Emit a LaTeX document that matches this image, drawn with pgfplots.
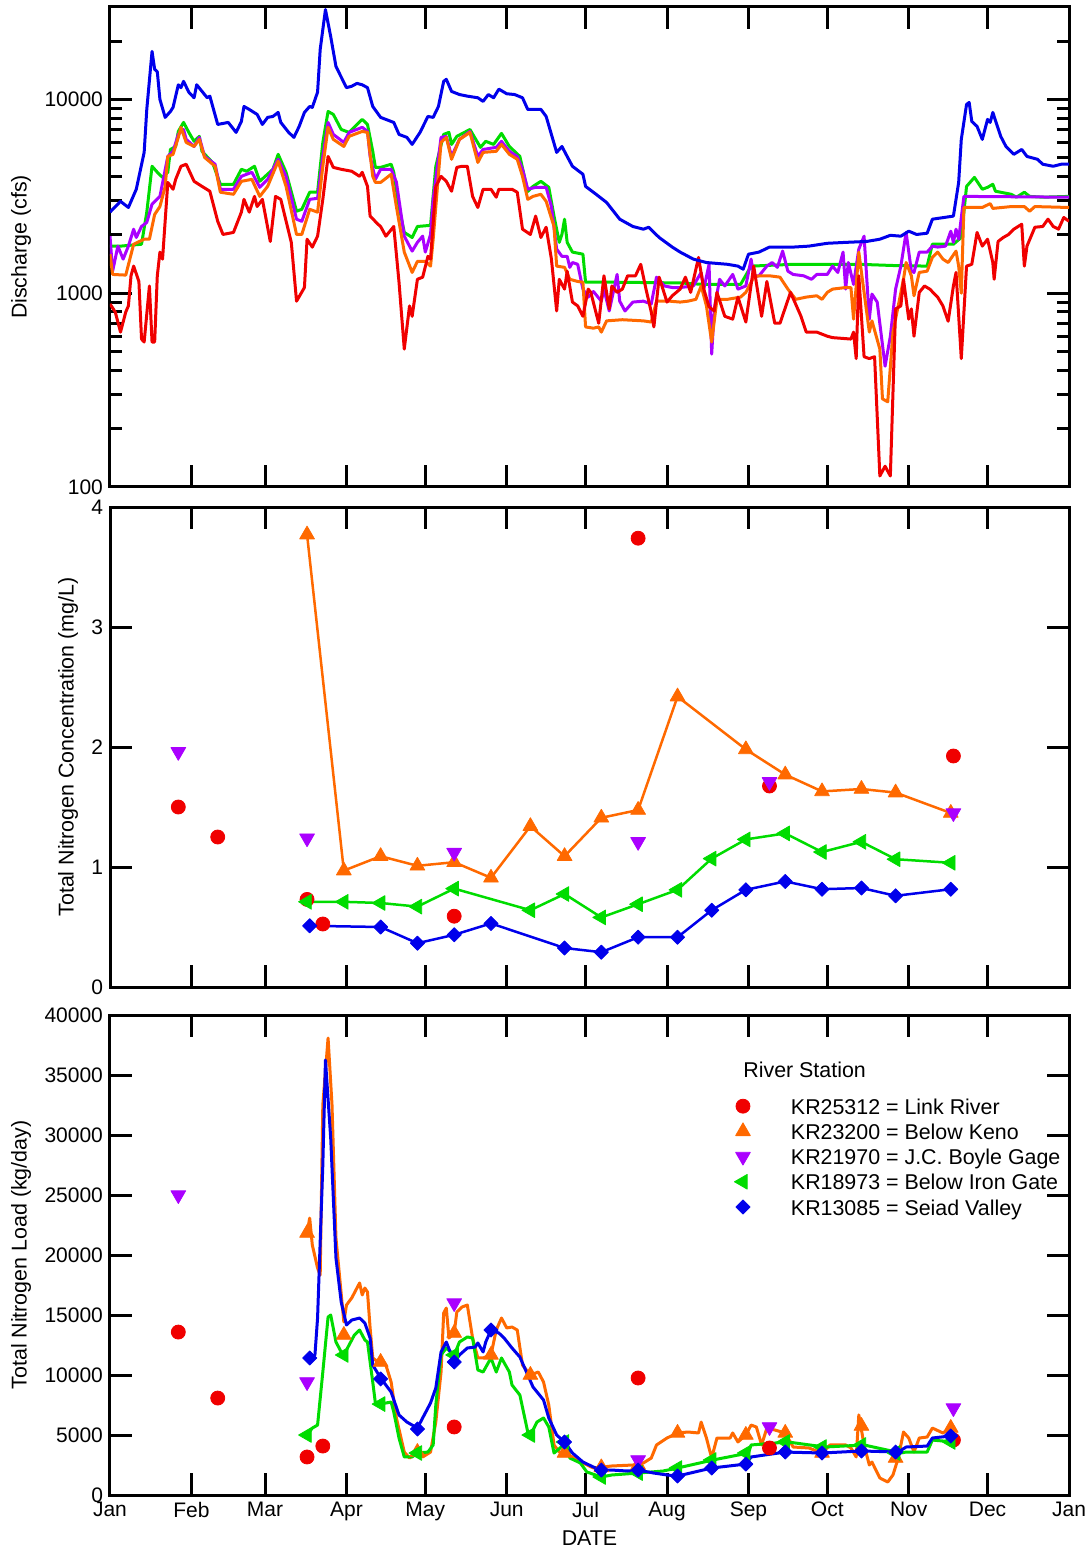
\documentclass[border=0pt]{standalone}
\usepackage{fontspec}
\setmainfont{Liberation Sans}
\usepackage{pgfplots}
\pgfplotsset{compat=1.18}

\definecolor{linkred}{RGB}{240,0,0}
\definecolor{kenoorange}{RGB}{255,105,0}
\definecolor{boylepurple}{RGB}{170,0,255}
\definecolor{irongreen}{RGB}{0,220,0}
\definecolor{seiadblue}{RGB}{0,0,235}

\newcommand{\labelfont}{\fontsize{10.7}{12.8}\selectfont}

\pgfplotsset{
  panel/.style={
    scale only axis, width=479.5pt, height=240pt,
    xmin=0, xmax=365,
    xtick={0,31,59,90,120,151,181,212,243,273,304,334,365},
    tick align=inside,
    major tick length=11pt,
    minor tick length=6pt,
    axis line style={line width=1.5pt},
    every tick/.append style={black, line width=1.5pt},
    tick label style={font=\fontsize{10.5}{12}\selectfont},
    label style={font=\labelfont},
    scaled ticks=false,
    /pgf/number format/assume math mode=true,
    /pgf/number format/1000 sep={},
    every axis plot/.append style={line join=round},
  },
  flow/.style={line width=1.5pt, no markers},
  redmark/.style={only marks, mark=*, mark size=3.5pt, color=linkred},
  orangemark/.style={mark=triangle*, mark size=4.25pt, color=kenoorange},
  purplemark/.style={only marks, mark=triangle*, mark size=4.25pt, color=boylepurple, mark options={rotate=180}},
  greenmark/.style={mark=triangle*, mark size=4.25pt, color=irongreen, mark options={rotate=90}},
  bluemark/.style={mark=square*, mark size=2.5pt, color=seiadblue, mark options={rotate=45}},
}

\begin{document}
\begin{tikzpicture}
\path[use as bounding box] (0,0) rectangle (545pt,-775.5pt);

% ---------------- Discharge ----------------
\begin{axis}[panel, at={(55pt,-243.5pt)}, anchor=south west,
  ymode=log, ymin=100, ymax=30000,
  ytick={100,1000,10000}, yticklabels={100,1000,10000},
  minor ytick={200,300,400,500,600,700,800,900,2000,3000,4000,5000,6000,7000,8000,9000,20000,30000},
  xticklabels={},
  ylabel={Discharge (cfs)},
  ylabel style={at={(axis description cs:-0.0928,0.5)}, anchor=center},
]
% KR18973 Below Iron Gate
\addplot[flow, irongreen] coordinates {
(0,1750)(4,1750)(12,1790)(14,2620)(16,4520)(18,4210)(20,3960)(22,4210)(23,5520)(25,5720)(26,6840)(28,7610)(30,6760)(32,6080)(34,6450)(35,5400)(39,4730)(42,3650)(47,3650)(50,4360)(52,4260)(55,4520)(57,3780)(62,4360)(64,5210)(67,4210)(71,2650)(73,2710)(76,3320)(79,3320)(81,6000)(83,8670)(85,8370)(88,7000)(91,6760)(94,7430)(96,7890)(98,7430)(100,5400)(101,4460)(103,4460)(107,4630)(108,4210)(110,2800)(112,2060)(115,1940)(117,2210)(122,2240)(124,4520)(127,6600)(129,6760)(130,5860)(132,6450)(137,7000)(141,5660)(143,6080)(146,5860)(149,6680)(152,5720)(156,5080)(159,3350)(161,3560)(164,3780)(167,3520)(169,2500)(171,1830)(172,2010)(173,2410)(174,1830)(176,1630)(180,1590)(181,1140)(191,1140)(217,1130)(226,1110)(240,1110)(244,1380)(260,1410)(285,1410)(298,1390)(311,1380)(313,1790)(321,1790)(324,1940)(326,3560)(329,3960)(330,3780)(332,3440)(334,3520)(336,3650)(337,3360)(343,3240)(345,3130)(348,3320)(350,3160)(355,3130)(365,3160)
};
% KR21970 J.C. Boyle Gage
\addplot[flow, boylepurple] coordinates {
(0,1970)(1,1300)(3,1750)(5,1500)(7,1750)(9,2140)(10,1940)(12,2210)(14,2320)(16,2880)(19,3160)(22,5080)(24,5400)(26,6600)(28,7000)(29,6220)(32,5720)(34,6370)(36,5080)(40,4630)(42,3440)(47,3440)(50,4010)(54,4210)(57,3520)(60,3870)(64,4910)(67,4010)(71,2410)(73,2350)(76,3050)(79,3090)(81,5080)(83,7610)(85,6600)(89,6000)(91,6760)(96,7180)(98,6840)(99,5080)(101,3870)(103,4360)(107,4360)(109,3750)(112,1970)(115,1650)(117,1830)(119,1970)(120,1630)(122,2010)(123,3050)(126,6370)(128,6450)(130,5080)(133,6220)(137,6840)(140,5080)(142,5520)(147,5660)(149,6080)(152,5400)(155,5080)(157,4360)(159,3440)(162,3520)(166,3520)(168,2800)(170,1690)(172,1550)(174,1550)(175,1360)(176,1440)(178,1410)(180,1050)(182,955)(184,1020)(187,910)(188,1050)(190,810)(193,1250)(194,910)(196,810)(199,900)(203,910)(206,880)(208,1210)(211,1090)(214,1070)(217,1070)(222,1090)(225,1280)(226,1050)(228,1410)(229,485)(230,830)(232,1180)(234,1090)(237,1250)(239,1050)(242,1090)(244,1500)(245,1230)(247,1230)(250,1380)(252,1440)(254,1360)(256,1650)(258,1300)(260,1250)(264,1230)(267,1180)(269,1250)(273,1250)(275,1380)(277,1280)(279,1630)(280,1050)(281,1440)(283,1110)(285,1690)(287,1970)(289,735)(290,990)(292,900)(295,420)(297,600)(299,1050)(301,1380)(303,2060)(305,1300)(306,1280)(308,1630)(311,1630)(313,1750)(315,1730)(318,1750)(320,2090)(321,1830)(322,2140)(323,1900)(325,3160)(365,3130)
};
% KR23200 Below Keno
\addplot[flow, kenoorange] coordinates {
(0,1590)(1,1250)(6,1240)(9,1790)(13,1900)(15,1900)(17,2550)(19,2800)(21,3560)(22,5080)(24,5210)(26,6370)(27,7180)(29,6000)(32,5720)(34,6220)(36,5020)(40,4520)(42,3320)(47,3240)(50,3780)(54,3870)(57,3160)(60,3560)(64,4800)(67,3560)(71,2010)(73,2010)(76,2710)(79,2620)(81,4520)(83,7180)(85,6220)(89,5720)(91,6450)(96,6840)(98,6760)(100,4010)(101,3730)(103,3730)(107,4110)(109,2800)(112,1630)(115,1280)(117,1460)(120,1460)(122,1380)(123,1900)(126,6000)(128,6370)(130,4910)(133,6220)(137,6760)(140,4730)(142,5330)(147,5400)(149,5860)(152,5210)(155,4910)(157,4010)(159,3050)(161,3160)(164,3240)(166,2980)(169,2210)(170,1380)(173,1360)(175,1180)(178,1150)(180,1140)(181,670)(184,660)(186,670)(187,630)(189,720)(195,730)(203,720)(206,710)(208,910)(213,910)(217,900)(220,910)(223,930)(225,1090)(227,860)(229,560)(231,930)(235,930)(240,955)(242,1010)(245,1210)(247,1230)(251,1230)(255,1210)(258,1050)(261,930)(265,955)(269,970)(271,930)(273,1010)(275,1050)(280,1070)(282,1070)(283,735)(285,1630)(287,1010)(289,630)(290,720)(293,515)(294,285)(296,275)(298,630)(300,860)(302,1180)(303,1440)(305,1230)(306,970)(308,1280)(311,1300)(313,1530)(315,1630)(317,1500)(319,1440)(322,1650)(323,1380)(324,1000)(325,2770)(332,2770)(335,2900)(336,2740)(343,2800)(348,2800)(350,2650)(352,2800)(365,2770)
};
% KR25312 Link River
\addplot[flow, linkred] coordinates {
(0,880)(2,800)(4,630)(6,800)(7,860)(8,1230)(9,1380)(11,1150)(12,580)(13,560)(15,1090)(16,560)(17,560)(18,1230)(19,1630)(20,1500)(22,3730)(24,3440)(25,3870)(27,4520)(29,4630)(32,3780)(35,3560)(38,3360)(41,2350)(43,2010)(47,2060)(50,2620)(51,3050)(53,2620)(55,3160)(56,2800)(58,3050)(61,1850)(63,3160)(65,3050)(69,1830)(71,910)(74,1070)(75,1900)(77,1730)(79,1970)(81,3050)(83,5080)(85,4460)(88,4360)(92,4260)(95,4010)(96,4210)(98,3560)(99,2500)(102,2270)(103,2210)(105,1970)(108,2210)(110,1140)(112,515)(114,860)(115,760)(117,1180)(119,1210)(121,1550)(122,1500)(124,3560)(126,4010)(128,3780)(130,3360)(132,4460)(134,4520)(136,4520)(138,3160)(140,2770)(142,3440)(145,3440)(147,3130)(148,3440)(153,3440)(155,3320)(157,2140)(160,2010)(162,2500)(164,1940)(166,2190)(168,1500)(170,810)(171,1180)(173,1050)(174,1300)(176,900)(178,860)(180,760)(182,1050)(183,1010)(186,700)(188,1230)(190,830)(191,1090)(193,1010)(195,1050)(197,1230)(200,1230)(202,1410)(204,1050)(206,800)(207,670)(209,1210)(212,900)(214,970)(217,1050)(219,1210)(221,1010)(224,1530)(226,1050)(228,850)(230,810)(231,1010)(234,760)(237,735)(239,955)(242,710)(245,1380)(248,760)(250,1150)(253,700)(255,700)(259,1010)(263,760)(265,630)(269,630)(273,600)(275,590)(282,580)(283,630)(284,460)(285,1230)(287,470)(289,460)(291,470)(293,114)(295,128)(297,114)(299,830)(301,860)(302,1180)(304,735)(305,830)(306,600)(308,1010)(310,1090)(312,1050)(315,955)(317,860)(319,717)(321,1090)(322,1280)(324,460)(326,1380)(328,1410)(330,2060)(332,1750)(334,1900)(336,1440)(336.5,1180)(338,1850)(340,1940)(342,2010)(344,2140)(347,2270)(348,1380)(349,1750)(352,2190)(355,2210)(357,2410)(359,2210)(361,2140)(363,2460)(365,2350)
};
% KR13085 Seiad Valley
\addplot[flow, seiadblue] coordinates {
(0,2620)(4,2980)(7,2770)(10,3440)(13,5330)(14,8880)(16,17700)(17,14300)(18,13900)(19,10000)(21,8080)(23,8670)(24,9100)(26,11900)(27,11500)(28,12400)(30,10900)(32,10200)(33,11900)(37,10200)(38,10400)(41,7430)(45,7610)(48,6760)(50,7700)(51,9200)(53,8880)(56,8370)(58,7430)(60,8080)(62,8170)(64,8570)(65,7610)(68,6760)(70,6370)(72,7260)(74,8570)(76,9200)(77,9100)(79,10900)(80,18100)(82,29100)(84,21100)(86,14800)(90,11500)(92,11700)(94,12100)(96,11900)(98,11500)(100,9200)(103,8080)(107,7700)(108,7610)(110,6600)(113,6370)(115,5860)(118,6760)(121,8170)(123,8080)(125,9200)(127,12400)(128,12700)(130,11000)(133,10600)(136,10400)(140,10200)(142,9770)(144,10600)(146,10200)(148,11300)(151,10700)(154,10600)(157,10200)(159,8880)(164,8880)(166,8170)(170,5330)(172,5720)(174,5080)(176,4520)(180,4110)(181,3560)(185,3240)(189,2940)(194,2410)(199,2210)(203,2140)(205,2190)(209,1940)(214,1730)(217,1630)(222,1500)(227,1440)(235,1410)(239,1380)(241,1330)(243,1590)(247,1630)(251,1730)(260,1730)(266,1750)(273,1810)(280,1830)(288,1850)(293,1900)(297,1990)(301,1970)(304,2090)(307,2010)(311,2040)(313,2410)(321,2500)(323,3730)(324,6220)(326,9420)(327,9650)(328,7700)(330,7260)(332,6220)(334,7890)(335,7610)(336,8570)(339,6450)(341,5720)(344,5210)(347,5520)(349,5080)(353,4910)(355,4630)(359,4520)(362,4630)(365,4630)
};
\end{axis}

% ---------------- Concentration ----------------
\begin{axis}[panel, at={(55pt,-493.5pt)}, anchor=south west,
  ymin=0, ymax=4,
  ytick={0,1,2,3,4}, yticklabels={0,1,2,3,4},
  xticklabels={},
  ylabel={Total Nitrogen Concentration (mg/L)},
  ylabel style={at={(axis description cs:-0.0438,0.5)}, anchor=center},
]
\addplot[redmark] coordinates {(26,1.50)(41,1.25)(75,0.73)(81,0.525)(131,0.59)(201,3.74)(251,1.675)(321,1.925)};
\addplot[orangemark, line width=1.25pt, mark options={line width=0.4pt}] coordinates {
(75,3.77)(89,0.97)(103,1.09)(117,1.01)(131,1.04)(145,0.91)(160,1.34)(173,1.09)(187,1.41)(201,1.475)(216,2.42)(242,1.98)(257,1.77)(271,1.63)(286,1.65)(299,1.62)(320,1.45)};
\addplot[purplemark] coordinates {(26,1.96)(75,1.24)(131,1.12)(201,1.21)(251,1.71)(321,1.45)};
\addplot[greenmark, line width=1.25pt, mark options={line width=0.4pt, rotate=90}] coordinates {
(75,0.71)(89,0.71)(103,0.70)(117,0.67)(131,0.82)(160,0.64)(173,0.775)(187,0.58)(201,0.69)(216,0.81)(229,1.07)(242,1.23)(257,1.28)(271,1.125)(286,1.21)(299,1.065)(320,1.035)};
\addplot[bluemark, line width=1.25pt, mark options={line width=0.4pt, rotate=45}] coordinates {
(76,0.51)(103,0.50)(117,0.365)(131,0.435)(145,0.53)(173,0.325)(187,0.29)(201,0.415)(216,0.415)(229,0.64)(242,0.81)(257,0.88)(271,0.815)(286,0.825)(299,0.76)(320,0.815)};
\end{axis}

% ---------------- Load ----------------
\begin{axis}[panel, at={(55pt,-747.5pt)}, anchor=south west,
  ymin=0, ymax=40000,
  ytick={0,5000,10000,15000,20000,25000,30000,35000,40000},
  yticklabels={0,5000,10000,15000,20000,25000,30000,35000,40000},
  xticklabels={Jan,Feb,Mar,Apr,May,Jun,Jul,Aug,Sep,Oct,Nov,Dec,Jan},
  ylabel={Total Nitrogen Load (kg/day)},
  ylabel style={at={(axis description cs:-0.0928,0.5)}, anchor=center},
  xlabel={DATE},
  xlabel style={at={(axis description cs:0.5,-0.0896)}, anchor=center},
  legend image code/.code={\path[draw=none, fill=none] (-5pt,-1pt) rectangle (24pt,8pt); \draw[#1] plot coordinates {(0pt,1.3pt)};},
  legend cell align=left,
  legend style={draw=none, fill=none, at={(axis description cs:0.6496,0.838)}, anchor=north west,
    font=\labelfont, row sep=-0.65pt, inner sep=0pt, outer sep=0pt,
    nodes={inner sep=0pt, text height=8pt, text depth=2.5pt}},
]
\addlegendimage{mark=*, mark size=3.5pt, color=linkred}
\addlegendentry{KR25312 = Link River}
\addlegendimage{mark=triangle*, mark size=4.25pt, color=kenoorange}
\addlegendentry{KR23200 = Below Keno}
\addlegendimage{mark=triangle*, mark size=4.25pt, color=boylepurple, mark options={rotate=180}}
\addlegendentry{KR21970 = J.C. Boyle Gage}
\addlegendimage{mark=triangle*, mark size=4.25pt, color=irongreen, mark options={rotate=90}}
\addlegendentry{KR18973 = Below Iron Gate}
\addlegendimage{mark=square*, mark size=2.5pt, color=seiadblue, mark options={rotate=45}}
\addlegendentry{KR13085 = Seiad Valley}

% daily loads
\addplot[flow, kenoorange, forget plot] coordinates {
(75,21830)(76,23080)(77,20830)(79,18920)(80,18330)(81,32500)(83,38080)(84.5,32500)(86,21420)(89,14420)(90,15830)(92,16420)(95,17670)(96,16670)(97,17250)(98,16920)(99,13920)(100,11420)(102,11080)(105,10830)(107,9420)(109,6420)(112,3580)(114,3080)(117,3580)(119,3170)(122,3580)(124,6080)(126,10250)(127,15170)(128,15580)(129,13080)(131,13500)(132,15250)(134,15670)(136,15830)(138,13080)(140,11420)(142,11420)(145,11670)(147,13750)(149,14750)(151,13920)(153,14000)(155,13750)(157,10830)(160,10000)(163,10250)(165,9420)(167,7500)(169,4170)(171,3580)(173,3500)(176,3170)(180,2670)(184,2250)(191,2420)(199,2500)(203,2670)(206,3080)(208,4170)(212,4750)(216,5170)(220,5250)(224,5170)(225,6080)(227,4750)(229,3080)(231,4750)(236,4750)(237,5170)(239,4420)(242,5000)(244,5830)(246,5670)(248,4170)(250,5580)(253,5420)(257,5170)(260,4000)(266,3920)(271,3500)(274,4170)(280,4170)(282,3920)(284,3170)(285,6670)(287,4170)(289,2500)(290,2750)(293,1420)(296,1080)(298,1670)(300,3080)(302,5250)(304,4750)(306,3580)(308,4750)(311,4830)(313,5580)(317,5170)(320,5580)
};
\addplot[flow, irongreen, forget plot] coordinates {
(75,5000)(77,5580)(79,5830)(81,10250)(83,14830)(84,15000)(86,12750)(88,11920)(89,11670)(91,12500)(93,13330)(95,13750)(97,12920)(98,12750)(100,9420)(101,7670)(103,7580)(107,7750)(108,6920)(110,4750)(112,3170)(115,3170)(117,3500)(121,3580)(123,4170)(124,7500)(126,11670)(128,12250)(131,11670)(133,12750)(136,13170)(138,13080)(140,10420)(142,10250)(145,11420)(147,10250)(149,11420)(152,10250)(153,9170)(156,8330)(159,5250)(160,5000)(162.5,6080)(165,6420)(167,5670)(169,3500)(174,4420)(175,3080)(179,2670)(181.5,1920)(187,1500)(191,1670)(201,1830)(210.5,2000)(216,2250)(229.5,2920)(243,3500)(244,4170)(258,4420)(272,4000)(287,4170)(301,3500)(303,3580)(311,3580)(313,4580)(321,4420)
};
\addplot[flow, seiadblue, forget plot] coordinates {
(76,11420)(78,11670)(79,14750)(81,27500)(82,36250)(84,29750)(86,19750)(88,16080)(90,14170)(92,14580)(95,14750)(97,14330)(99,13080)(100,10830)(103,9750)(107,8580)(110,6670)(113,6080)(117,5580)(119,6420)(122,7670)(124,8920)(126,11920)(128,12750)(131,11080)(133,11670)(136,12250)(139,12330)(140,12670)(142,11920)(143,12750)(145,13750)(148,13500)(150,13080)(153,12250)(156,11500)(159,10000)(161,9000)(165,7920)(167,6420)(170,5000)(173,4420)(176,3500)(180,2750)(184,2330)(187,2080)(191,2080)(197,2000)(201,2080)(207,1830)(212,1670)(216,1580)(229,2250)(242,2580)(244,3170)(257,3580)(271,3500)(286,3670)(300,3580)(303,4000)(311,4080)(313,4750)(320,4920)
};
% loads on sampling days
\addplot[redmark, forget plot] coordinates {(26,13580)(41,8080)(75,3170)(81,4080)(131,5670)(201,9750)(251,3920)(321,4580)};
\addplot[orangemark, only marks, forget plot] coordinates {(75,21830)(89,13330)(103,11080)(117,3580)(131,13500)(145,11670)(160,10000)(173,3500)(187,2300)(201,2500)(216,5170)(242,5000)(257,5170)(271,3500)(286,5750)(299,3080)(320,5580)};
\addplot[purplemark, forget plot] coordinates {(26,25000)(75,9420)(131,16000)(201,2920)(251,5670)(321,7250)};
\addplot[greenmark, only marks, forget plot] coordinates {(75,5000)(89,11670)(103,7580)(117,3500)(131,11670)(160,5000)(173,4420)(187,1500)(201,1830)(216,2250)(229,2920)(242,3500)(257,4420)(271,4000)(286,4170)(299,3500)(320,4420)};
\addplot[bluemark, only marks, forget plot] coordinates {(76,11420)(103,9670)(117,5500)(131,11080)(145,13750)(173,4420)(187,2080)(201,2080)(216,1580)(229,2250)(242,2580)(257,3580)(271,3500)(286,3670)(299,3580)(320,4920)};

\node[anchor=base west, inner sep=0pt, font=\labelfont] at (axis description cs:0.660,0.8694) {River Station};
\end{axis}
\end{tikzpicture}
\end{document}
